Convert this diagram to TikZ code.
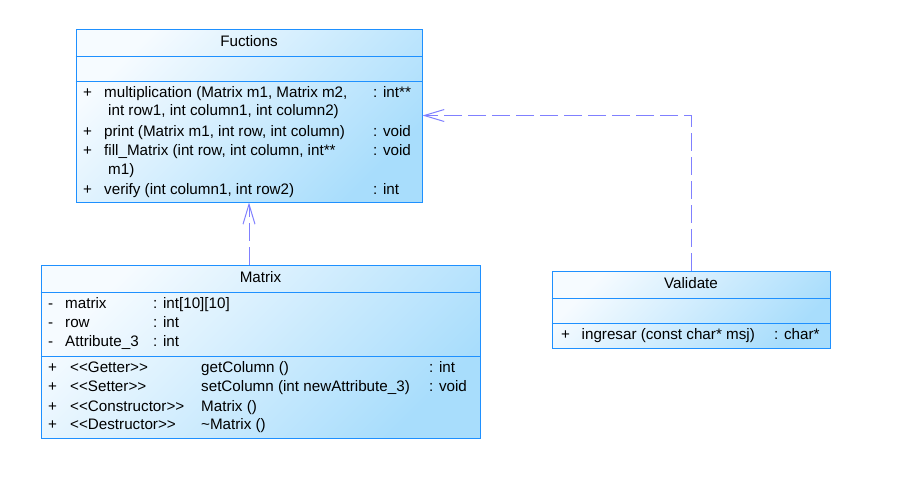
\documentclass[tikz,border=0pt]{standalone}
\usepackage{fontspec}
\setmainfont{Liberation Sans}[Ligatures=TeXOff]
\usetikzlibrary{
    arrows.meta,
    positioning,
    calc
}
\definecolor{umlborder}{RGB}{30,144,255}
\definecolor{umlfilltop}{RGB}{246,251,255}
\definecolor{umlfillbottom}{RGB}{168,221,252}
\definecolor{umllink}{RGB}{128,128,255}
\tikzset{
    umlclass/.style={
        draw=umlborder,
        line width=1pt,
        top color=umlfilltop,
        bottom color=umlfillbottom,
        shading angle=45,
        inner sep=0pt
    }
}
\tikzset{
    divider/.style={
        draw=umlborder,
        line width=1pt
    }
}
\tikzset{
    member/.style={
        anchor=west,
        inner sep=0pt,
        text height=11pt,
        text depth=3pt,
        font=\fontsize{15.2}{18}\selectfont
    }
}
\tikzset{
    classname/.style={
        member,
        anchor=center
    }
}
\tikzset{
    realize/.style={
        draw=umllink,
        line width=1pt,
        dash pattern=on 18pt off 6pt,
        -{Straight Barb[length=20pt,width=12pt]}
    }
}

\begin{document}
\begin{tikzpicture}[x=1pt, y=-1pt]

\useasboundingbox (0,0) rectangle (923,491);

% class boxes
\node[umlclass, minimum width=346pt, minimum height=173pt] (fuctions) at (249,115.5) {};
\node[umlclass, minimum width=439pt, minimum height=173pt] (matrix) at (260.5,351.5) {};
\node[umlclass, minimum width=278pt, minimum height=77pt] (validate) at (691,309.5) {};

% compartments
\draw[divider] (fuctions.west |- 0,56) -- (fuctions.east |- 0,56);
\draw[divider] (fuctions.west |- 0,81) -- (fuctions.east |- 0,81);
\draw[divider] (matrix.west |- 0,292) -- (matrix.east |- 0,292);
\draw[divider] (matrix.west |- 0,356) -- (matrix.east |- 0,356);
\draw[divider] (validate.west |- 0,298) -- (validate.east |- 0,298);
\draw[divider] (validate.west |- 0,323) -- (validate.east |- 0,323);

% Fuctions
\node[classname] (fucName) at (249,42) {Fuctions};
\node[member] (fucVisA) at (83,93.5) {+};
\node[member] (fucOpA) at (104,93.5) {multiplication (Matrix m1, Matrix m2,};
\node[member] (fucOpAb) at (108,111.5) {int row1, int column1, int column2)};
\node[member] (fucTypeA) at (373,93.5) {: int**};
\node[member] (fucVisB) at (83,132) {+};
\node[member] (fucOpB) at (104,132) {print (Matrix m1, int row, int column)};
\node[member] (fucTypeB) at (373,132) {: void};
\node[member] (fucVisC) at (83,151.5) {+};
\node[member] (fucOpC) at (104,151.5) {fill\_Matrix (int row, int column, int**};
\node[member] (fucOpCb) at (108,170) {m1)};
\node[member] (fucTypeC) at (373,151.5) {: void};
\node[member] (fucVisD) at (83,190) {+};
\node[member] (fucOpD) at (104,190) {verify (int column1, int row2)};
\node[member] (fucTypeD) at (373,190) {: int};

% Matrix
\node[classname] (matName) at (260.5,278) {Matrix};
\node[member] (matVisA) at (48,304) {-};
\node[member] (matAttrA) at (65,304) {matrix};
\node[member] (matTypeA) at (153,304) {: int[10][10]};
\node[member] (matVisB) at (48,323) {-};
\node[member] (matAttrB) at (65,323) {row};
\node[member] (matTypeB) at (153,323) {: int};
\node[member] (matVisC) at (48,342) {-};
\node[member] (matAttrC) at (65,342) {Attribute\_3};
\node[member] (matTypeC) at (153,342) {: int};
\node[member] (matOpVisA) at (48,368) {+};
\node[member] (matStereoA) at (70,368) {<<Getter>>};
\node[member] (matOpA) at (201,368) {getColumn ()};
\node[member] (matOpTypeA) at (429,368) {: int};
\node[member] (matOpVisB) at (48,387) {+};
\node[member] (matStereoB) at (70,387) {<<Setter>>};
\node[member] (matOpB) at (201,387) {setColumn (int newAttribute\_3)};
\node[member] (matOpTypeB) at (429,387) {: void};
\node[member] (matOpVisC) at (48,407) {+};
\node[member] (matStereoC) at (70,407) {<<Constructor>>};
\node[member] (matOpC) at (201,407) {Matrix ()};
\node[member] (matOpVisD) at (48,425.5) {+};
\node[member] (matStereoD) at (70,425.5) {<<Destructor>>};
\node[member] (matOpD) at (201,425.5) {\textasciitilde Matrix ()};

% Validate
\node[classname] (valName) at (691,284) {Validate};
\node[member] (valVisA) at (561,335.5) {+};
\node[member] (valOpA) at (581.5,335.5) {ingresar (const char* msj)};
\node[member] (valTypeA) at (774,335.5) {: char*};

% dependencies
\draw[realize] (matrix.north -| fuctions.south) -- (fuctions.south);
\draw[realize] (validate.north) |- (fuctions.east);

\end{tikzpicture}
\end{document}
